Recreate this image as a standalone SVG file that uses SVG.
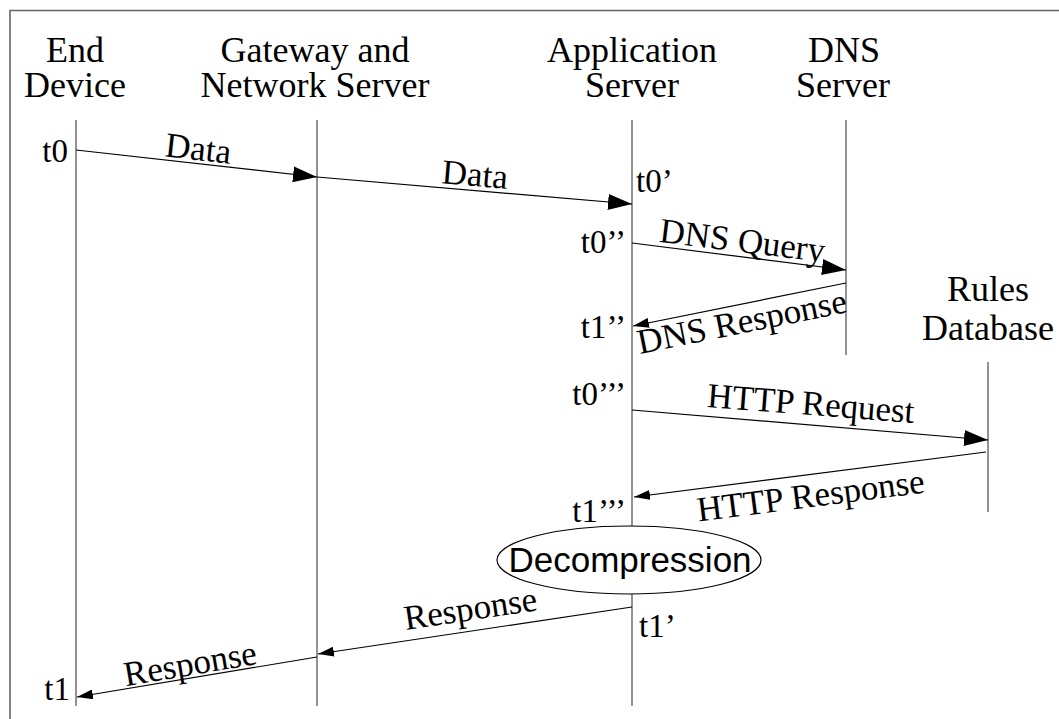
<svg xmlns="http://www.w3.org/2000/svg" width="1059" height="719" viewBox="0 0 1059 719">
<defs>
<style>
.hdr{font-family:"Liberation Serif","Times New Roman",serif;font-size:36px;fill:#000;text-anchor:middle}
.lbl{font-family:"Liberation Serif","Times New Roman",serif;font-size:35px;fill:#000;text-anchor:middle}
.ts{font-family:"Liberation Serif","Times New Roman",serif;font-size:33px;fill:#000}
.life{stroke:#777;stroke-width:1.6;fill:none}
.msg{stroke:#000;stroke-width:1.2;fill:none}
</style>
<marker id="big" viewBox="0 0 24 16" refX="24" refY="8" markerWidth="24" markerHeight="16" markerUnits="userSpaceOnUse" orient="auto"><path d="M0,0 L24,8 L0,16 Z" fill="#000"/></marker>
<marker id="small" viewBox="0 0 16 10" refX="16" refY="5" markerWidth="16" markerHeight="10" markerUnits="userSpaceOnUse" orient="auto"><path d="M0,0 L16,5 L0,10 Z" fill="#000"/></marker>
</defs>
<rect width="1059" height="719" fill="#fff"/>
<path d="M10,730 L10,10.5 L1070,10.5" stroke="#666" stroke-width="1.6" fill="none"/>

<g id="end-device">
<text class="hdr" x="75" y="62">End</text>
<text class="hdr" x="75" y="97">Device</text>
<line class="life" x1="76" y1="120" x2="76" y2="706"/>
</g>
<g id="gateway">
<text class="hdr" x="315" y="62">Gateway and</text>
<text class="hdr" x="315" y="97">Network Server</text>
<line class="life" x1="317" y1="120" x2="317" y2="706"/>
</g>
<g id="app-server">
<text class="hdr" x="632" y="62">Application</text>
<text class="hdr" x="632" y="97">Server</text>
<line class="life" x1="632" y1="120" x2="632" y2="526"/>
<line class="life" x1="632" y1="594" x2="632" y2="706"/>
</g>
<g id="dns-server">
<text class="hdr" x="844" y="62">DNS</text>
<text class="hdr" x="843" y="97">Server</text>
<line class="life" x1="846" y1="120" x2="846" y2="355"/>
</g>
<g id="rules-db">
<text class="hdr" x="988" y="301">Rules</text>
<text class="hdr" x="988" y="340">Database</text>
<line class="life" x1="988" y1="362" x2="988" y2="512"/>
</g>
<g id="decompression">
<ellipse cx="629" cy="560" rx="132" ry="34" fill="#fff" stroke="#000" stroke-width="1.2"/>
<text x="630" y="572" style="font-family:'Liberation Sans',Arial,sans-serif;font-size:35px;text-anchor:middle">Decompression</text>
</g>

<g id="timestamps">
<text class="ts" x="68" y="162" text-anchor="end">t0</text>
<text class="ts" x="636" y="192">t0’</text>
<text class="ts" x="626" y="253" text-anchor="end">t0’’</text>
<text class="ts" x="626" y="338" text-anchor="end">t1’’</text>
<text class="ts" x="626" y="405" text-anchor="end">t0’’’</text>
<text class="ts" x="626" y="522" text-anchor="end">t1’’’</text>
<text class="ts" x="639" y="637">t1’</text>
<text class="ts" x="70" y="700" text-anchor="end">t1</text>
</g>

<g id="connectors">
<line class="msg" x1="76" y1="150" x2="317" y2="177" marker-end="url(#big)"/>
<line class="msg" x1="317" y1="177" x2="632" y2="204" marker-end="url(#big)"/>
<line class="msg" x1="632" y1="243" x2="846" y2="270" marker-end="url(#big)"/>
<line class="msg" x1="846" y1="283" x2="633" y2="326" marker-end="url(#small)"/>
<line class="msg" x1="632" y1="410" x2="988" y2="440" marker-end="url(#big)"/>
<line class="msg" x1="986" y1="452" x2="634" y2="497" marker-end="url(#small)"/>
<line class="msg" x1="632" y1="607" x2="318" y2="654" marker-end="url(#small)"/>
<line class="msg" x1="317" y1="657" x2="77" y2="697" marker-end="url(#small)"/>
<text class="lbl" transform="translate(197,160) rotate(6.4)">Data</text>
<text class="lbl" transform="translate(474,186) rotate(4.9)">Data</text>
<text class="lbl" transform="translate(741,252) rotate(7)">DNS Query</text>
<text class="lbl" transform="translate(744,333) rotate(-11.4)">DNS Response</text>
<text class="lbl" transform="translate(810,415) rotate(4.4)">HTTP Request</text>
<text class="lbl" transform="translate(812,507) rotate(-7.3)">HTTP Response</text>
<text class="lbl" transform="translate(472,620) rotate(-8.5)">Response</text>
<text class="lbl" transform="translate(192,675) rotate(-9.6)">Response</text>
</g>
</svg>
